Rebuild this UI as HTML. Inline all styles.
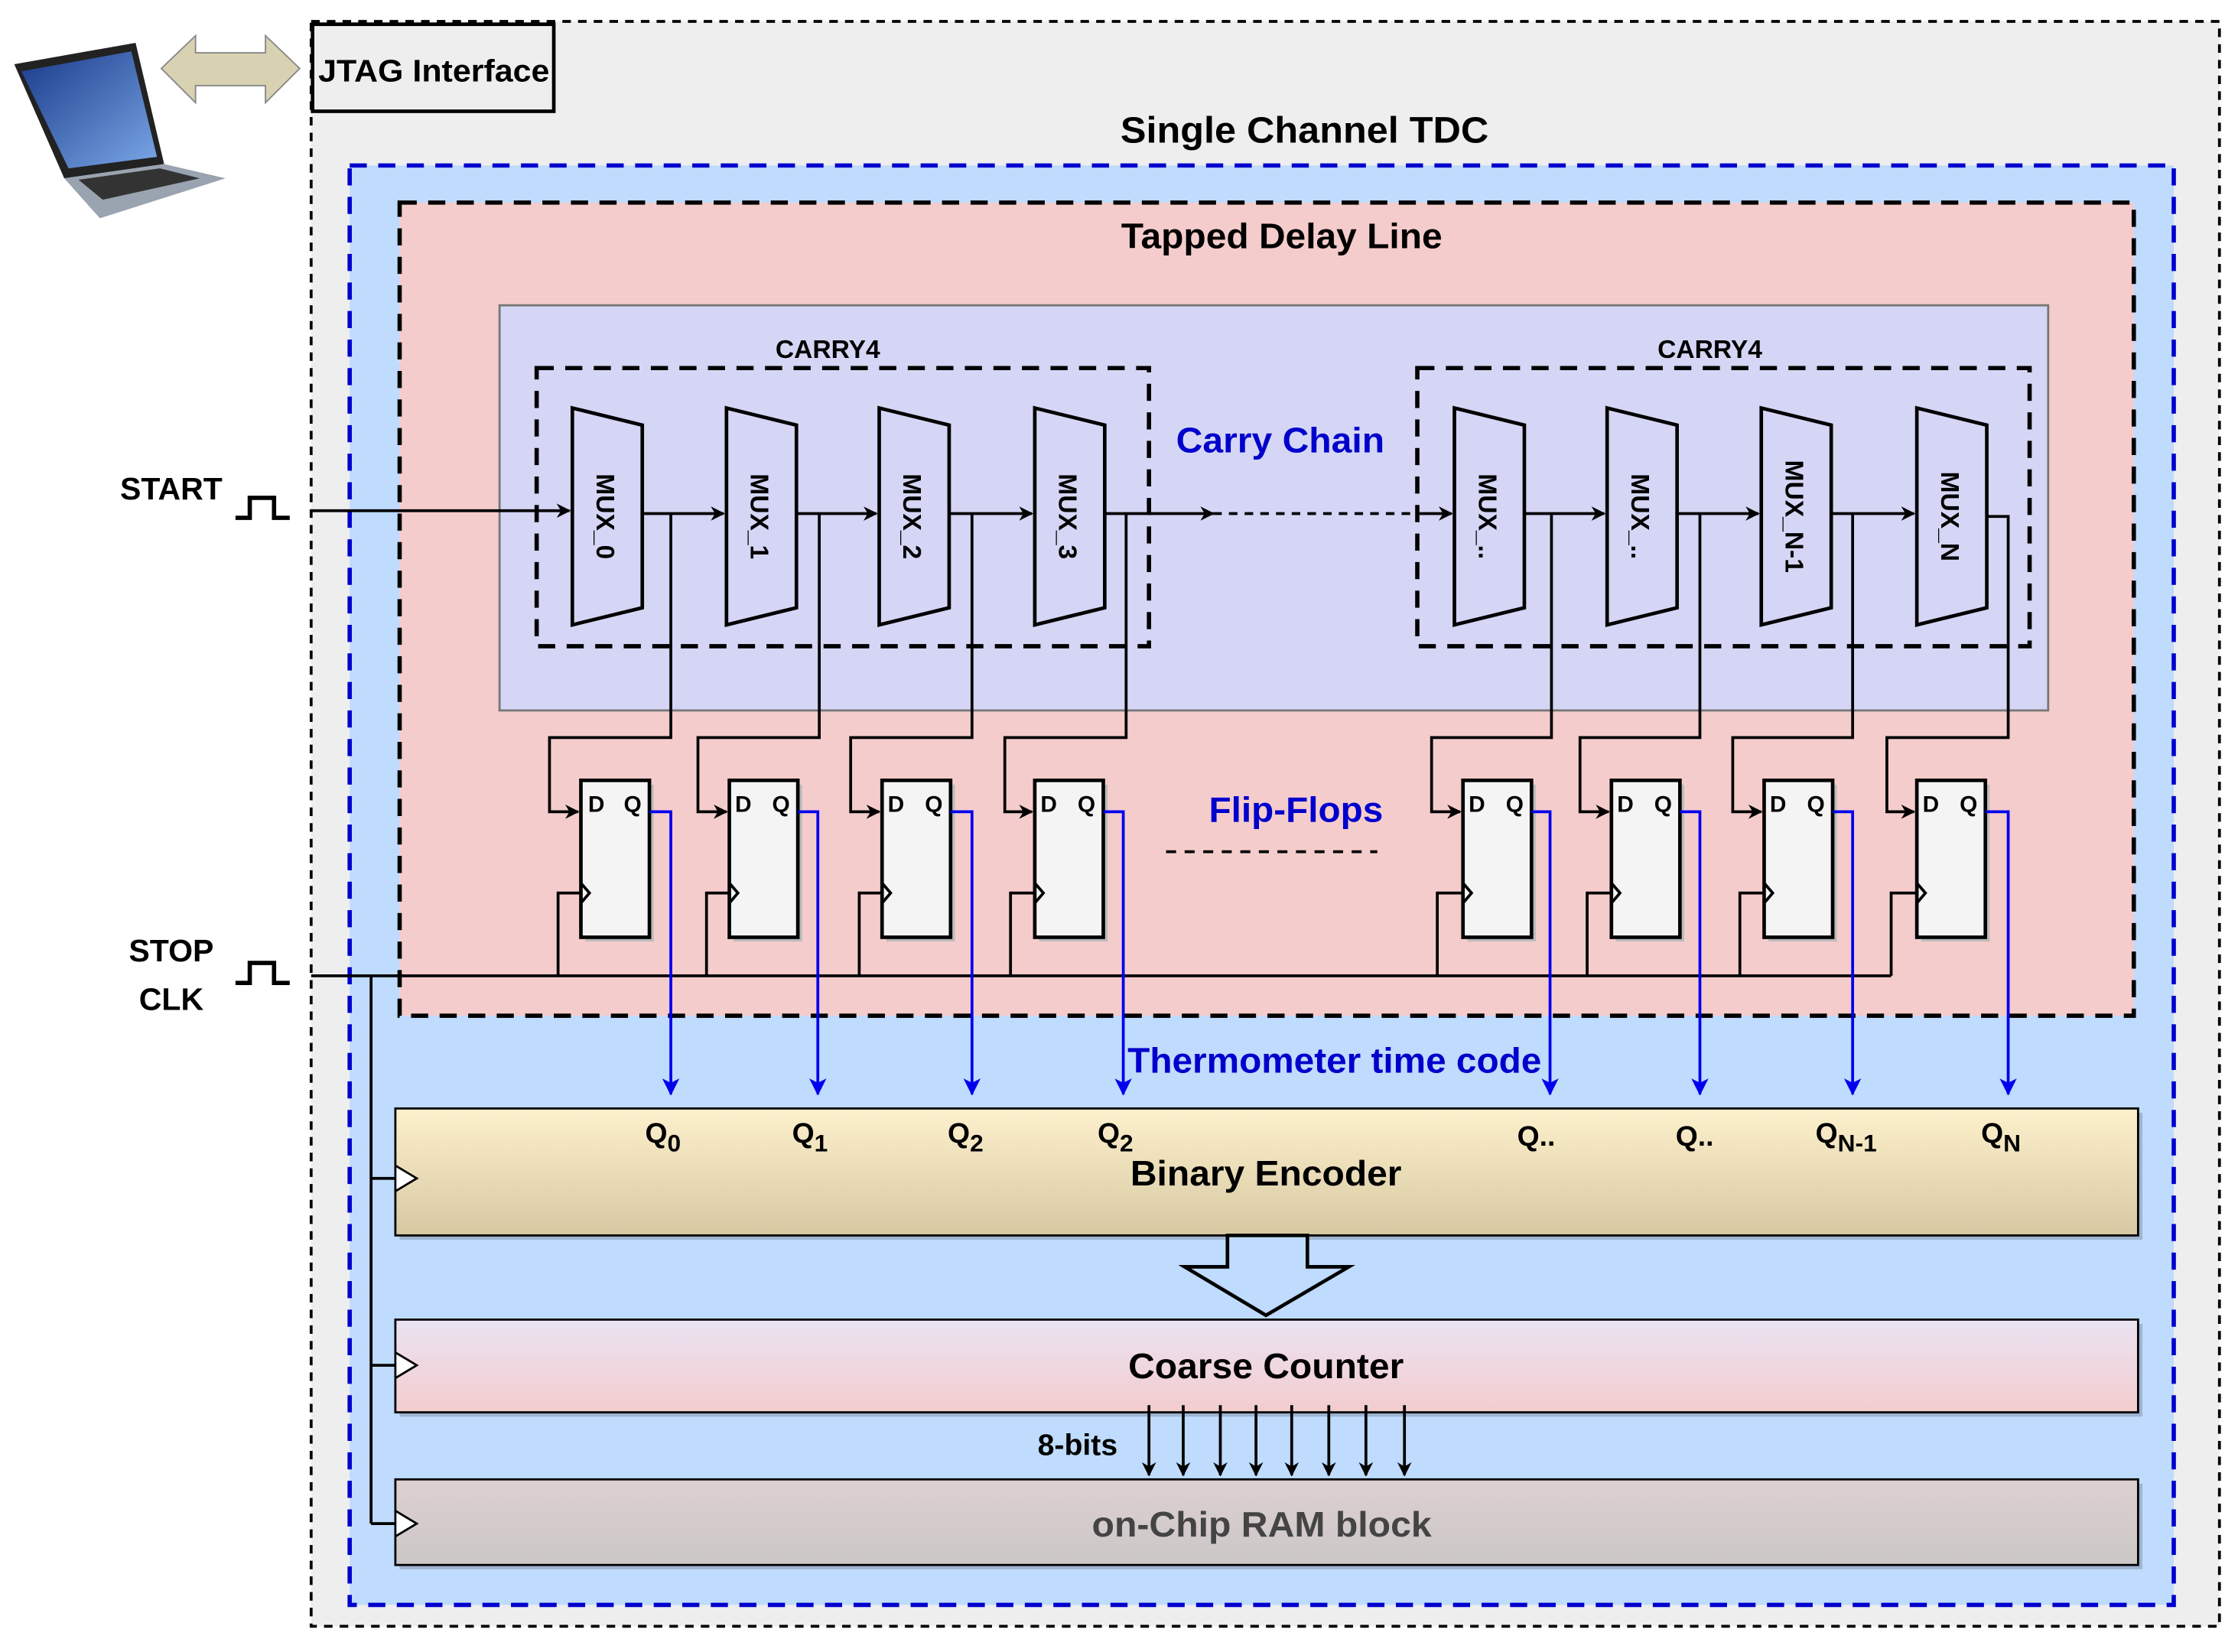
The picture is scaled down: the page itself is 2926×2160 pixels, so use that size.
<!DOCTYPE html>
<html><head><meta charset="utf-8"><style>
html,body{margin:0;padding:0;background:#fff}
svg{display:block}
text{font-family:"Liberation Sans",Arial,sans-serif;font-weight:bold}
</style></head><body>
<svg width="2926" height="2160" viewBox="0 0 1568 1158" preserveAspectRatio="none" xmlns="http://www.w3.org/2000/svg">
<defs>
<marker id="ab" markerWidth="10" markerHeight="10" refX="9" refY="5" orient="auto" markerUnits="userSpaceOnUse"><path d="M0,0 L10,5 L0,10 L3,5 z" fill="#000"/></marker>
<marker id="au" markerWidth="12" markerHeight="12" refX="11" refY="6" orient="auto" markerUnits="userSpaceOnUse"><path d="M0,0 L12,6 L0,12 L3,6 z" fill="#0000ee"/></marker>
<linearGradient id="g1" x1="0" y1="0" x2="0" y2="1"><stop offset="0" stop-color="#fdf0cc"/><stop offset="1" stop-color="#d6c9a2"/></linearGradient>
<linearGradient id="g2" x1="0" y1="0" x2="0" y2="1"><stop offset="0" stop-color="#ebe3f3"/><stop offset="1" stop-color="#f3cccd"/></linearGradient>
<linearGradient id="g3" x1="0" y1="0" x2="0" y2="1"><stop offset="0" stop-color="#ded0d0"/><stop offset="1" stop-color="#cbc7c7"/></linearGradient>
<linearGradient id="scr" x1="0" y1="0" x2="1" y2="1"><stop offset="0" stop-color="#1a3a8a"/><stop offset="1" stop-color="#7aa7e6"/></linearGradient>
</defs>
<!-- laptop -->
<polygon points="10,45 95,30 115,115 45,125" fill="#222"/>
<polygon points="15,50 92,36 110,110 48,118" fill="url(#scr)"/>
<polygon points="45,125 115,115 158,125 70,153" fill="#9aa3b0"/>
<polygon points="55,126 112,118 140,125 72,140" fill="#333"/>
<!-- double arrow -->
<polygon points="113,48 137,25 137,37 186,37 186,25 210,48 186,72 186,60 137,60 137,72" fill="#d9d2b2" stroke="#888" stroke-width="1"/>
<!-- outer -->
<rect x="218" y="15" width="1337" height="1125" fill="#eeeeee" stroke="#000" stroke-width="2" stroke-dasharray="6,5"/>
<rect x="219" y="17" width="169" height="61" fill="#eeeeee" stroke="#000" stroke-width="2.5"/>
<text x="304" y="57" font-size="22" text-anchor="middle" textLength="162" lengthAdjust="spacingAndGlyphs">JTAG Interface</text>
<text x="914" y="100" font-size="26" text-anchor="middle" textLength="258" lengthAdjust="spacingAndGlyphs">Single Channel TDC</text>
<rect x="245" y="116" width="1278" height="1009" fill="#bfdbfd" stroke="#0000cc" stroke-width="3" stroke-dasharray="12,8"/>
<rect x="280" y="142" width="1215" height="570" fill="#f5cccc" stroke="#000" stroke-width="3" stroke-dasharray="12,8"/>
<text x="898" y="174" font-size="25" text-anchor="middle" textLength="225" lengthAdjust="spacingAndGlyphs">Tapped Delay Line</text>
<rect x="350" y="214" width="1085" height="284" fill="#d5d6f5" stroke="#777" stroke-width="1.5"/>
<rect x="376" y="258" width="429" height="195" fill="none" stroke="#000" stroke-width="3" stroke-dasharray="12,8"/>
<rect x="993" y="258" width="429" height="195" fill="none" stroke="#000" stroke-width="3" stroke-dasharray="12,8"/>
<text x="580" y="251" font-size="18" text-anchor="middle">CARRY4</text>
<text x="1198" y="251" font-size="18" text-anchor="middle">CARRY4</text>
<text x="897" y="317" font-size="25" text-anchor="middle" fill="#0000cc" textLength="146" lengthAdjust="spacingAndGlyphs">Carry Chain</text>
<!-- muxes -->
<g stroke="#000" stroke-width="2.5" fill="#d5d6f5">
<polygon points="401,286 450,298 450,426 401,438"/>
<polygon points="509,286 558,298 558,426 509,438"/>
<polygon points="616,286 665,298 665,426 616,438"/>
<polygon points="725,286 774,298 774,426 725,438"/>
<polygon points="1019,286 1068,298 1068,426 1019,438"/>
<polygon points="1126,286 1175,298 1175,426 1126,438"/>
<polygon points="1234,286 1283,298 1283,426 1234,438"/>
<polygon points="1343,286 1392,298 1392,426 1343,438"/>
</g>
<g font-size="18" font-weight="bold">
<text transform="translate(418,362) rotate(90)" text-anchor="middle">MUX_0</text>
<text transform="translate(526,362) rotate(90)" text-anchor="middle">MUX_1</text>
<text transform="translate(633,362) rotate(90)" text-anchor="middle">MUX_2</text>
<text transform="translate(742,362) rotate(90)" text-anchor="middle">MUX_3</text>
<text transform="translate(1036,362) rotate(90)" text-anchor="middle">MUX_..</text>
<text transform="translate(1143,362) rotate(90)" text-anchor="middle">MUX_..</text>
<text transform="translate(1251,362) rotate(90)" text-anchor="middle">MUX_N-1</text>
<text transform="translate(1360,362) rotate(90)" text-anchor="middle">MUX_N</text>
</g>
<!-- chain lines -->
<g stroke="#000" stroke-width="2" fill="none">
<path d="M218,358 L399,358" marker-end="url(#ab)"/>
<path d="M450,360 L507,360" marker-end="url(#ab)"/>
<path d="M558,360 L614,360" marker-end="url(#ab)"/>
<path d="M665,360 L723,360" marker-end="url(#ab)"/>
<path d="M774,360 L850,360" marker-end="url(#ab)"/>
<path d="M850,360 L995,360" stroke-dasharray="6,5"/>
<path d="M995,360 L1017,360" marker-end="url(#ab)"/>
<path d="M1068,360 L1124,360" marker-end="url(#ab)"/>
<path d="M1175,360 L1232,360" marker-end="url(#ab)"/>
<path d="M1283,360 L1341,360" marker-end="url(#ab)"/>
<path d="M1392,362 L1407,362 L1407,498"/>
<path d="M470,360 L470,517 L385,517 L385,569 L405,569" marker-end="url(#ab)"/>
<path d="M574,360 L574,517 L489,517 L489,569 L509,569" marker-end="url(#ab)"/>
<path d="M681,360 L681,517 L596,517 L596,569 L616,569" marker-end="url(#ab)"/>
<path d="M789,360 L789,517 L704,517 L704,569 L723,569" marker-end="url(#ab)"/>
<path d="M1087,360 L1087,517 L1003,517 L1003,569 L1023,569" marker-end="url(#ab)"/>
<path d="M1191,360 L1191,517 L1107,517 L1107,569 L1127,569" marker-end="url(#ab)"/>
<path d="M1298,360 L1298,517 L1214,517 L1214,569 L1234,569" marker-end="url(#ab)"/>
<path d="M1407,498 L1407,517 L1322,517 L1322,569 L1341,569" marker-end="url(#ab)"/>
<path d="M218,684 L1325,684"/>
<path d="M391,684 L391,626 L407,626"/><path d="M495,684 L495,626 L511,626"/>
<path d="M602,684 L602,626 L618,626"/><path d="M708,684 L708,626 L725,626"/>
<path d="M1007,684 L1007,626 L1025,626"/><path d="M1112,684 L1112,626 L1129,626"/>
<path d="M1219,684 L1219,626 L1236,626"/><path d="M1325,684 L1325,626 L1343,626"/>
<path d="M260,684 L260,1068"/>
<path d="M260,826 L277,826"/><path d="M260,957 L277,957"/><path d="M260,1068 L277,1068"/>
</g>
<!-- flip flops -->
<g font-size="16">
<g transform="translate(407,547)"><rect x="3" y="3" width="48" height="110" fill="#bbb"/><rect width="48" height="110" fill="#f4f4f4" stroke="#000" stroke-width="2.5"/><path d="M0,72 L6,79 L0,86" fill="none" stroke="#000" stroke-width="2"/><text x="5" y="22">D</text><text x="30" y="22">Q</text></g>
<g transform="translate(511,547)"><rect x="3" y="3" width="48" height="110" fill="#bbb"/><rect width="48" height="110" fill="#f4f4f4" stroke="#000" stroke-width="2.5"/><path d="M0,72 L6,79 L0,86" fill="none" stroke="#000" stroke-width="2"/><text x="4" y="22">D</text><text x="30" y="22">Q</text></g>
<g transform="translate(618,547)"><rect x="3" y="3" width="48" height="110" fill="#bbb"/><rect width="48" height="110" fill="#f4f4f4" stroke="#000" stroke-width="2.5"/><path d="M0,72 L6,79 L0,86" fill="none" stroke="#000" stroke-width="2"/><text x="4" y="22">D</text><text x="30" y="22">Q</text></g>
<g transform="translate(725,547)"><rect x="3" y="3" width="48" height="110" fill="#bbb"/><rect width="48" height="110" fill="#f4f4f4" stroke="#000" stroke-width="2.5"/><path d="M0,72 L6,79 L0,86" fill="none" stroke="#000" stroke-width="2"/><text x="4" y="22">D</text><text x="30" y="22">Q</text></g>
<g transform="translate(1025,547)"><rect x="3" y="3" width="48" height="110" fill="#bbb"/><rect width="48" height="110" fill="#f4f4f4" stroke="#000" stroke-width="2.5"/><path d="M0,72 L6,79 L0,86" fill="none" stroke="#000" stroke-width="2"/><text x="4" y="22">D</text><text x="30" y="22">Q</text></g>
<g transform="translate(1129,547)"><rect x="3" y="3" width="48" height="110" fill="#bbb"/><rect width="48" height="110" fill="#f4f4f4" stroke="#000" stroke-width="2.5"/><path d="M0,72 L6,79 L0,86" fill="none" stroke="#000" stroke-width="2"/><text x="4" y="22">D</text><text x="30" y="22">Q</text></g>
<g transform="translate(1236,547)"><rect x="3" y="3" width="48" height="110" fill="#bbb"/><rect width="48" height="110" fill="#f4f4f4" stroke="#000" stroke-width="2.5"/><path d="M0,72 L6,79 L0,86" fill="none" stroke="#000" stroke-width="2"/><text x="4" y="22">D</text><text x="30" y="22">Q</text></g>
<g transform="translate(1343,547)"><rect x="3" y="3" width="48" height="110" fill="#bbb"/><rect width="48" height="110" fill="#f4f4f4" stroke="#000" stroke-width="2.5"/><path d="M0,72 L6,79 L0,86" fill="none" stroke="#000" stroke-width="2"/><text x="4" y="22">D</text><text x="30" y="22">Q</text></g>
</g>
<text x="908" y="576" font-size="25" text-anchor="middle" fill="#0000cc" textLength="122" lengthAdjust="spacingAndGlyphs">Flip-Flops</text>
<path d="M817,597 L965,597" stroke="#000" stroke-width="2" stroke-dasharray="7,6"/>
<g stroke="#0000ee" stroke-width="2" fill="none">
<path d="M455,569 L470,569 L470,767" marker-end="url(#au)"/>
<path d="M559,569 L573,569 L573,767" marker-end="url(#au)"/>
<path d="M666,569 L681,569 L681,767" marker-end="url(#au)"/>
<path d="M773,569 L787,569 L787,767" marker-end="url(#au)"/>
<path d="M1073,569 L1086,569 L1086,767" marker-end="url(#au)"/>
<path d="M1177,569 L1191,569 L1191,767" marker-end="url(#au)"/>
<path d="M1284,569 L1298,569 L1298,767" marker-end="url(#au)"/>
<path d="M1391,569 L1407,569 L1407,767" marker-end="url(#au)"/>
</g>
<text x="935" y="752" font-size="25" text-anchor="middle" fill="#0000cc" textLength="290" lengthAdjust="spacingAndGlyphs">Thermometer time code</text>
<!-- encoder -->
<rect x="280" y="780" width="1221" height="89" fill="#9fb4d0"/>
<rect x="277" y="777" width="1221" height="89" fill="url(#g1)" stroke="#000" stroke-width="1.5"/>
<g font-size="20">
<text x="452" y="801">Q<tspan font-size="17" dy="6">0</tspan></text>
<text x="555" y="801">Q<tspan font-size="17" dy="6">1</tspan></text>
<text x="664" y="801">Q<tspan font-size="17" dy="6">2</tspan></text>
<text x="769" y="801">Q<tspan font-size="17" dy="6">2</tspan></text>
<text x="1063" y="803">Q..</text>
<text x="1174" y="803">Q..</text>
<text x="1272" y="801">Q<tspan font-size="17" dy="6">N-1</tspan></text>
<text x="1388" y="801">Q<tspan font-size="17" dy="6">N</tspan></text>
</g>
<text x="887" y="831" font-size="25" text-anchor="middle" textLength="190" lengthAdjust="spacingAndGlyphs">Binary Encoder</text>
<polygon points="860,866 916,866 916,888 945,888 887,922 830,888 860,888" fill="#bfdbfd" stroke="#000" stroke-width="2.5"/>
<rect x="280" y="928" width="1221" height="65" fill="#9fb4d0"/>
<rect x="277" y="925" width="1221" height="65" fill="url(#g2)" stroke="#000" stroke-width="1.5"/>
<text x="887" y="966" font-size="25" text-anchor="middle" textLength="193" lengthAdjust="spacingAndGlyphs">Coarse Counter</text>
<rect x="280" y="1040" width="1221" height="60" fill="#9fb4d0"/>
<rect x="277" y="1037" width="1221" height="60" fill="url(#g3)" stroke="#000" stroke-width="1.5"/>
<text x="884" y="1077" font-size="25" text-anchor="middle" fill="#444" textLength="238" lengthAdjust="spacingAndGlyphs">on-Chip RAM block</text>
<text x="755" y="1020" font-size="21" text-anchor="middle">8-bits</text>
<g stroke="#000" stroke-width="2">
<path d="M805,985 L805,1034" marker-end="url(#ab)"/><path d="M829,985 L829,1034" marker-end="url(#ab)"/>
<path d="M855,985 L855,1034" marker-end="url(#ab)"/><path d="M880,985 L880,1034" marker-end="url(#ab)"/>
<path d="M905,985 L905,1034" marker-end="url(#ab)"/><path d="M931,985 L931,1034" marker-end="url(#ab)"/>
<path d="M957,985 L957,1034" marker-end="url(#ab)"/><path d="M984,985 L984,1034" marker-end="url(#ab)"/>
</g>
<g fill="#fff" stroke="#000" stroke-width="1.5">
<polygon points="277,817 292,826 277,835"/><polygon points="277,948 292,957 277,966"/><polygon points="277,1059 292,1068 277,1077"/>
</g>
<text x="120" y="350" font-size="22" text-anchor="middle">START</text>
<path d="M165,363 L175,363 L175,349 L192,349 L192,363 L203,363" fill="none" stroke="#000" stroke-width="3"/>
<text x="120" y="674" font-size="22" text-anchor="middle">STOP</text>
<text x="120" y="708" font-size="22" text-anchor="middle">CLK</text>
<path d="M165,689 L175,689 L175,675 L192,675 L192,689 L203,689" fill="none" stroke="#000" stroke-width="3"/>
</svg>
</body></html>
